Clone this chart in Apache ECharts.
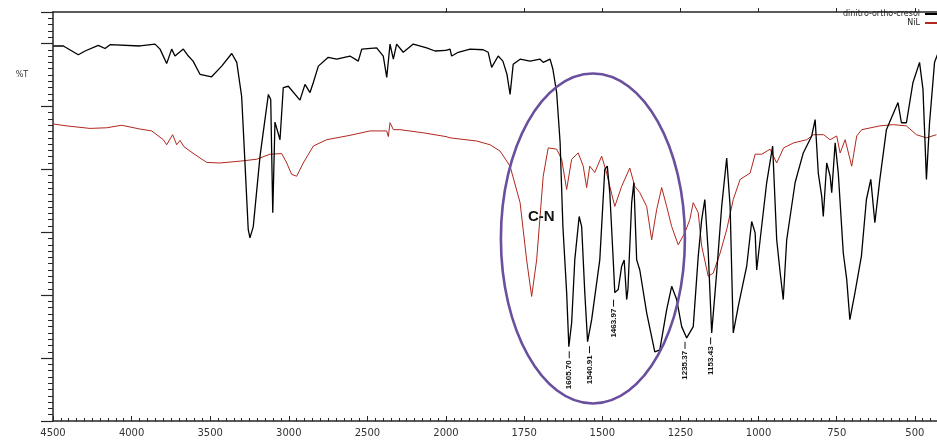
<!DOCTYPE html>
<html><head><meta charset="utf-8">
<script src="https://cdn.jsdelivr.net/npm/echarts@6/dist/echarts.min.js"></script>
<style>html,body{margin:0;padding:0;background:#fff}#c{width:937px;height:440px}</style>
</head><body><div id="c"></div>
<script>
const seriesNames = ['dinitro-ortho-cresol', 'NiL'];
const xTickLabels = [4500,4000,3500,3000,2500,2000,1750,1500,1250,1000,750,500];
const blackWavenumber = [4498,4434,4339,4296,4212,4169,4137,3947,3851,3819,3777,3745,3724,3671,3639,3609,3565,3491,3427,3363,3331,3300,3279,3258,3247,3226,3183,3130,3115,3102,3088,3056,3035,3003,2929,2897,2865,2844,2812,2749,2695,2611,2558,2536,2441,2399,2377,2356,2335,2314,2272,2208,2123,2070,2000,1987,1982,1961,1923,1881,1865,1854,1833,1818,1805,1795,1785,1763,1731,1699,1689,1667,1658,1646,1635,1626,1614,1607,1598,1588,1574,1566,1556,1547,1534,1508,1492,1484,1476,1465,1460,1449,1438,1430,1422,1418,1406,1399,1390,1380,1358,1332,1316,1294,1278,1262,1246,1230,1209,1193,1182,1172,1161,1150,1134,1118,1102,1091,1081,1065,1038,1022,1011,1006,995,974,955,942,931,921,910,899,883,857,830,819,809,798,793,782,771,766,755,745,729,718,708,692,671,655,641,628,612,591,554,543,527,506,485,474,463,453,437,427];
const blackT = [59.6,59.6,58.2,58.8,59.7,59.2,59.8,59.6,59.9,59.1,56.8,59.1,58.0,59.1,58.0,57.2,55.1,54.7,56.4,58.4,57.0,51.6,41.1,30.4,29.1,30.9,42.1,51.9,51.1,33.1,47.5,44.7,53.0,53.2,51.0,53.5,52.2,53.8,56.4,57.8,57.5,58.0,57.2,59.1,59.3,58.0,54.6,59.9,57.5,59.9,58.6,59.9,59.3,58.8,58.9,59.1,58.0,58.6,59.1,59.0,58.6,56.2,58.0,57.2,55.1,51.9,56.7,57.5,57.2,57.5,57.0,57.5,55.9,52.2,44.3,30.9,20.4,11.8,15.6,25.6,32.5,30.9,20.4,12.6,16.1,25.6,40.0,40.5,36.3,25.6,20.4,20.9,24.6,25.6,19.3,20.9,34.7,37.9,25.6,24.0,17.2,11.0,11.3,17.7,21.4,19.3,15.0,13.2,15.0,26.2,32.0,35.2,26.8,14.0,23.6,34.1,41.8,34.1,14.0,18.2,24.6,31.7,29.9,24.0,28.8,37.9,43.7,28.8,23.6,19.3,28.8,32.5,37.9,42.6,45.3,47.9,39.4,35.7,32.5,41.0,38.9,36.3,44.2,39.4,26.7,22.5,16.1,20.3,26.2,35.2,38.4,31.5,38.4,46.3,50.6,47.4,47.4,53.8,57.0,52.7,38.4,47.4,57.0,58.3];
const redWavenumber = [4498,4413,4265,4158,4063,3947,3872,3798,3777,3739,3713,3692,3667,3629,3565,3522,3438,3310,3204,3120,3045,3013,2982,2950,2908,2844,2759,2611,2484,2377,2367,2356,2335,2293,2145,2000,1987,1902,1859,1827,1795,1763,1742,1726,1710,1689,1673,1646,1630,1614,1598,1577,1561,1550,1540,1524,1502,1486,1476,1460,1438,1412,1396,1380,1358,1342,1326,1310,1294,1278,1257,1236,1220,1209,1193,1182,1161,1145,1123,1102,1081,1059,1027,1011,990,963,942,920,888,846,824,792,771,750,739,723,702,686,670,612,569,527,495,463,431];
const redT = [47.2,46.9,46.5,46.6,47.0,46.4,46.1,44.7,43.9,45.5,43.9,44.6,43.6,42.9,41.8,41.1,41.0,41.3,41.6,42.4,42.5,41.0,39.2,38.9,41.0,43.7,44.7,45.4,46.1,46.1,45.2,47.4,46.3,46.3,45.8,45.2,45.0,44.5,43.9,42.9,40.5,34.7,25.6,19.8,25.6,38.9,43.4,43.2,41.6,36.8,41.6,42.6,40.5,37.1,40.5,39.5,42.1,39.4,37.3,34.1,37.3,40.2,37.3,36.3,34.1,28.8,33.6,37.1,34.1,30.9,28.0,29.9,32.0,34.7,33.1,27.8,23.0,23.5,26.7,30.4,35.2,38.4,39.4,42.4,42.4,43.2,41.0,43.4,44.2,44.7,45.5,45.5,44.7,45.3,42.6,44.7,40.5,45.3,46.3,46.9,47.1,46.9,45.5,45.0,45.5];
const peakLabels = ['1605.70','1540.91','1463.97','1235.37','1153.43'];
const peakT = [11.4, 12.2, 19.6, 12.9, 13.6];
const annotationText = 'C-N';
const yAxisTitle = '%T';

function part(ws, ts, hi) {
  const out = [];
  for (let i = 0; i < ws.length; i++) {
    if (hi ? ws[i] >= 2000 : ws[i] <= 2000) out.push([ws[i], ts[i]]);
  }
  return out;
}
const AX = '#262626';
const chart = echarts.init(document.getElementById('c'), null, {renderer: 'canvas'});
const grids = [
  {left: 53, top: 12, bottom: 19, width: 393, outerBoundsMode: 'none', containLabel: false},
  {left: 446, top: 12, bottom: 19, width: 547, outerBoundsMode: 'none', containLabel: false}
];
const xCommon = {type: 'value', inverse: true, splitLine: {show: false}};
const lblStyle = {color: '#333', fontFamily: 'DejaVu Sans', fontSize: 10, margin: 7};
const option = {
  animation: false,
  backgroundColor: '#fff',
  grid: grids,
  legend: {
    data: seriesNames, orient: 'vertical', right: -4, top: 10, align: 'right',
    itemGap: 1, itemWidth: 16, itemHeight: 2, icon: 'rect',
    textStyle: {fontSize: 8, fontFamily: 'DejaVu Sans', color: '#222', padding: [0, 0, 0, 0]},
    padding: 0
  },
  xAxis: [
    Object.assign({}, xCommon, {gridIndex: 0, min: 2000, max: 4500, interval: 500,
      axisLine: {show: true, lineStyle: {color: AX, width: 1.5}},
      axisTick: {show: true, inside: true, length: 5, lineStyle: {color: AX}},
      minorTick: {show: true, splitNumber: 10, length: 3, lineStyle: {color: AX}},
      axisLabel: Object.assign({}, lblStyle, {formatter: v => xTickLabels.includes(v) ? String(v) : ''})}),
    Object.assign({}, xCommon, {gridIndex: 1, min: 250, max: 2000, interval: 250,
      axisLine: {show: true, lineStyle: {color: AX, width: 1.5}},
      axisTick: {show: true, inside: true, length: 5, lineStyle: {color: AX}},
      minorTick: {show: true, splitNumber: 10, length: 3, lineStyle: {color: AX}},
      axisLabel: Object.assign({}, lblStyle, {formatter: v => (v !== 2000 && xTickLabels.includes(v)) ? String(v) : ''})}),
    Object.assign({}, xCommon, {gridIndex: 0, min: 2000, max: 4500, interval: 500,
      axisLine: {show: false}, axisTick: {show: true, length: 4, lineStyle: {color: AX}}, axisLabel: {show: false}}),
    Object.assign({}, xCommon, {gridIndex: 1, min: 250, max: 2000, interval: 250,
      axisLine: {show: false}, axisTick: {show: true, length: 4, lineStyle: {color: AX}}, axisLabel: {show: false}}),
    Object.assign({}, xCommon, {gridIndex: 0, position: 'top', min: 2000, max: 4500,
      axisLine: {show: true, lineStyle: {color: AX, width: 1.5}}, axisTick: {show: false}, axisLabel: {show: false}}),
    Object.assign({}, xCommon, {gridIndex: 1, position: 'top', min: 250, max: 2000,
      axisLine: {show: true, lineStyle: {color: AX, width: 1.5}}, axisTick: {show: false}, axisLabel: {show: false}})
  ],
  yAxis: [
    {type: 'value', gridIndex: 0, position: 'left', min: 0, max: 65, interval: 10, splitLine: {show: false},
      axisLine: {show: true, lineStyle: {color: AX, width: 1.5}},
      axisTick: {show: true, length: 12, lineStyle: {color: AX, width: 1.2}},
      axisLabel: {show: false}},
    {type: 'value', gridIndex: 1, min: 0, max: 65, show: false},
    {type: 'value', gridIndex: 0, position: 'left', offset: 0, min: 0, max: 65, interval: 1, splitLine: {show: false},
      axisLine: {show: false}, axisLabel: {show: false},
      axisTick: {show: true, length: 5, lineStyle: {color: AX}}}
  ],
  series: [
    {name: seriesNames[1], type: 'line', xAxisIndex: 0, yAxisIndex: 0, data: part(redWavenumber, redT, true),
      showSymbol: false, lineStyle: {color: '#b0281e', width: 1}, itemStyle: {color: '#b0281e'}},
    {name: seriesNames[1], type: 'line', xAxisIndex: 1, yAxisIndex: 1, data: part(redWavenumber, redT, false),
      showSymbol: false, lineStyle: {color: '#b0281e', width: 1}, itemStyle: {color: '#b0281e'}},
    {name: seriesNames[0], type: 'line', xAxisIndex: 0, yAxisIndex: 0, data: part(blackWavenumber, blackT, true),
      showSymbol: false, lineStyle: {color: '#000', width: 1.3}, itemStyle: {color: '#000'}},
    {name: seriesNames[0], type: 'line', xAxisIndex: 1, yAxisIndex: 1, data: part(blackWavenumber, blackT, false),
      showSymbol: false, lineStyle: {color: '#000', width: 1.3}, itemStyle: {color: '#000'}}
  ]
};
chart.setOption(option);

// annotations positioned through the axes
const gfx = [];
const c = chart.convertToPixel({gridIndex: 1}, [1530, 29]);
gfx.push({type: 'ellipse', shape: {cx: c[0], cy: c[1], rx: 92, ry: 165},
  style: {fill: 'none', stroke: '#6a4f9e', lineWidth: 2.6}, z: 100});
const cn = chart.convertToPixel({gridIndex: 1}, [1695, 32.5]);
gfx.push({type: 'text', x: cn[0], y: cn[1], z: 101,
  style: {text: annotationText, font: 'bold 15px "Liberation Sans"', fill: '#111', textAlign: 'center', textVerticalAlign: 'middle'}});
peakLabels.forEach((lab, i) => {
  const p = chart.convertToPixel({gridIndex: 1}, [parseFloat(lab), peakT[i]]);
  gfx.push({type: 'line', shape: {x1: p[0], y1: p[1] + 2, x2: p[0], y2: p[1] + 9}, style: {stroke: '#111', lineWidth: 1}, z: 101});
  gfx.push({type: 'text', x: p[0], y: p[1] + 11, rotation: Math.PI / 2, z: 101,
    style: {text: lab, font: 'bold 8px "Liberation Sans"', fill: '#111', textAlign: 'right', textVerticalAlign: 'middle'}});
});
const yt = chart.convertToPixel({gridIndex: 0}, [4500, 55]);
gfx.push({type: 'text', x: yt[0] - 31, y: yt[1], z: 101,
  style: {text: yAxisTitle, font: '8px "DejaVu Sans"', fill: '#333', textAlign: 'center', textVerticalAlign: 'middle'}});
chart.setOption({graphic: {elements: gfx}});
</script></body></html>
